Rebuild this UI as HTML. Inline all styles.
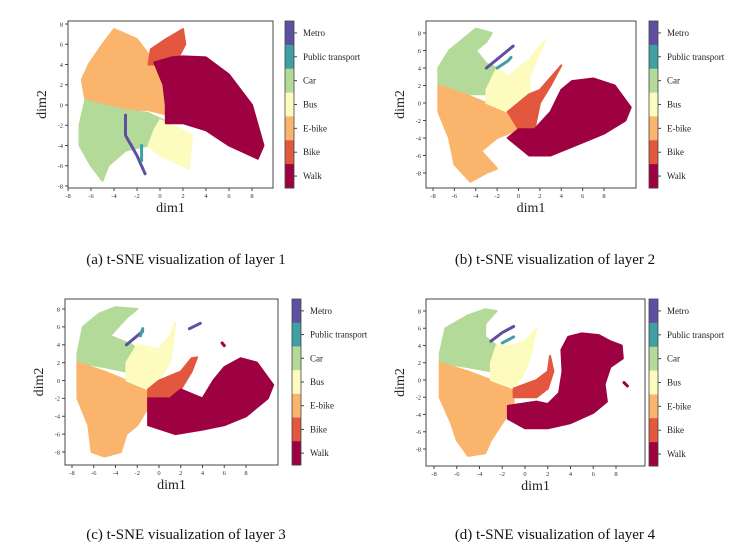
<!DOCTYPE html>
<html><head><meta charset="utf-8">
<style>
html,body{margin:0;padding:0;background:#fff;}
body{width:751px;height:559px;overflow:hidden;position:relative;font-family:"Liberation Serif",serif;}
.cap{position:absolute;font-size:15px;color:#111;white-space:nowrap;transform:translateX(-50%);}
</style></head>
<body>
<svg id="fig" width="751" height="559" style="position:absolute;left:0;top:0"></svg>
<div class="cap" style="left:186px;top:252px">(a) t-SNE visualization of layer 1</div>
<div class="cap" style="left:555px;top:252px">(b) t-SNE visualization of layer 2</div>
<div class="cap" style="left:186px;top:527px">(c) t-SNE visualization of layer 3</div>
<div class="cap" style="left:555px;top:527px">(d) t-SNE visualization of layer 4</div>
<script>
const classes=["Metro","Public transport","Car","Bus","E-bike","Bike","Walk"];
const colors=["#5e4fa2","#3f9fa2","#b3da98","#fdfbbd","#fbb46b","#e2573e","#9e0142"];
const xTicks=[-8,-6,-4,-2,0,2,4,6,8];
const yTicks=[-8,-6,-4,-2,0,2,4,6,8];
// regions per layer: [classIndex, polygon vertices in data coords]
const regionsA=[
 [4,[[-6.2,4],[-5,6],[-4,7.5],[-3,7],[-2,6.5],[-1,5],[0,4.3],[0.8,2],[0.8,-1],[-1,-0.5],[-3,-0.5],[-5,0],[-6.5,0.5],[-6.8,2.5]]],
 [2,[[-6.5,0.5],[-5,0],[-3,-0.5],[-1,-0.8],[0.3,-1.5],[0,-3],[-1,-4],[-3,-4.5],[-4.5,-6],[-5,-7.5],[-6,-6],[-7,-4],[-7,-2]]],
 [3,[[0,-1.5],[2,-2.5],[2.8,-3],[2.5,-6.3],[1,-5.5],[0,-5],[-1,-4],[-0.5,-2.5]]],
 [5,[[-1,4],[-0.8,5.5],[0.5,6.5],[2,7.5],[2.2,6],[1.5,4.5],[0,4]]],
 [6,[[-0.5,4.2],[1,4.7],[2,4.8],[4,4.7],[6,3],[8,0],[9,-4],[8.5,-5.3],[6,-4],[4,-2.5],[2,-1.8],[0.5,-1.8],[0.5,0],[0.3,2]]]
];
const linesA=[[0,[[-3,-1],[-3,-3],[-2.5,-4],[-2,-5],[-1.3,-6.8]]],[1,[[-1.6,-4],[-1.6,-5.5]]]];
const regionsB=[
 [2,[[-7.5,4],[-6.5,6],[-5,7.5],[-4,8.5],[-2.5,8],[-3,7],[-4,6],[-3,4.5],[-2,4],[-1,3],[-3,1],[-5,1],[-7.5,2]]],
 [4,[[-7.5,2],[-5,1],[-3,0],[-1,-1],[0,-3],[-2,-4],[-3.5,-5.5],[-2,-7.5],[-3,-8],[-4.5,-9],[-6,-7],[-6.5,-4],[-7.5,-1]]],
 [3,[[-2,4],[-1,3],[0,4],[1,5],[2.5,7.2],[1,3],[1,1],[-1,-1],[-3,0],[-3,1.5]]],
 [5,[[-1,-1],[1,1],[2,1.5],[4,4.3],[3,2],[2,0],[1.5,-3],[0,-3]]],
 [6,[[0,-3],[1.5,-3],[3,-1],[4,1.5],[5,2.5],[7,2.8],[9,2],[10.5,-0.5],[10,-2],[8,-3.5],[6,-4.5],[3,-6],[1,-6],[-1,-4]]]
];
const linesB=[[0,[[-3,4],[-2,5],[-1,6],[-0.5,6.5]]],[1,[[-2,4],[-1,4.8],[-0.7,5.2]]]];
const regionsC=[
 [2,[[-7.5,3],[-7,6],[-5.5,7.5],[-4,8.2],[-2,8],[-3,7],[-4.5,5],[-2.5,4],[-1.5,3],[-3,1],[-5,1.5],[-7.5,2]]],
 [4,[[-7.5,2],[-5,1],[-3,0],[-1,-1],[-1,-3],[-2,-5],[-3,-6],[-3.5,-8],[-5,-8.5],[-6.2,-8],[-6.5,-5],[-7.5,-2]]],
 [3,[[-2,4],[0,3.5],[1,5],[1.5,6.5],[1.2,3.5],[1,2],[0,0],[-1,-1],[-3,0],[-3,2]]],
 [5,[[-1,-1],[0,0],[2,1],[3,2.5],[3.5,2.6],[3,1],[2,-1],[1,-2],[-1,-2]]],
 [6,[[-1,-2],[1,-2],[2,-1],[4,-2],[5,0],[6,1.5],[7.5,2.5],[9,2],[10.5,-0.5],[10,-2],[8,-4],[6,-5],[4,-5.5],[1.5,-6],[-1,-5]]]
];
const linesC=[[0,[[-3,4],[-2,5],[-1.5,5.5]]],[0,[[2.8,5.8],[3.8,6.4]]],[1,[[-1.7,5],[-1.5,5.8]]],[6,[[5.8,4.2],[6,3.9]]]];
const regionsD=[
 [2,[[-7.5,3],[-7,6],[-5,7.5],[-3.5,8.2],[-2.5,8],[-3.5,6.5],[-3.5,5],[-2.5,4],[-1,3],[-3,1],[-5,1.5],[-7.5,2]]],
 [4,[[-7.5,2],[-5,1],[-3,0],[-1,-1],[-1,-3],[-2,-5],[-3,-7],[-3.5,-8.5],[-5,-8.8],[-6,-7],[-6.5,-5],[-7.5,-2]]],
 [3,[[-2.5,4],[-1,4],[0,4.5],[1,6],[0.5,3],[0,1],[-1,-1],[-3,0],[-3,2]]],
 [5,[[-1,-1],[1,0],[2,1],[2.2,2.8],[2.5,1],[2,-1],[1,-2],[-1,-2]]],
 [6,[[-1.5,-3],[1,-2.5],[2,-2.8],[3,-1.5],[3.3,1],[3.2,3.5],[3.8,5],[5,5.4],[6.5,5.2],[7.5,4.5],[8.5,4],[8.6,2.5],[7.5,1.5],[7,-0.5],[7.2,-2.5],[6,-3.8],[4,-5],[2,-5.6],[0,-5.6],[-1.5,-4.5]]]
];
const linesD=[[0,[[-3,4.5],[-2,5.5],[-1,6.2]]],[1,[[-2,4.3],[-1,5]]],[6,[[8.7,-0.3],[9,-0.7]]]];

const panels=[
 {id:"a",regions:regionsA,lines:linesA,box:[68,21,273,188],x8:[68,252],y8:[24,186],cb:285},
 {id:"b",regions:regionsB,lines:linesB,box:[426,21,636,188],x8:[433,604],y8:[33,173],cb:649},
 {id:"c",regions:regionsC,lines:linesC,box:[65,299,278,465],x8:[72,246],y8:[309,452],cb:292},
 {id:"d",regions:regionsD,lines:linesD,box:[426,299,645,466],x8:[434,616],y8:[311,449],cb:649}
];
const NS="http://www.w3.org/2000/svg";
const svg=document.getElementById("fig");
function mk(tag,attrs,parent){const e=document.createElementNS(NS,tag);for(const k in attrs)e.setAttribute(k,attrs[k]);(parent||svg).appendChild(e);return e;}
panels.forEach(p=>{
 const g=mk("g",{});
 
 
 const sx=v=>p.x8[0]+(v+8)*(p.x8[1]-p.x8[0])/16;
 const sy=v=>p.y8[1]-(v+8)*(p.y8[1]-p.y8[0])/16;
 const [x0,y0,x1,y1]=p.box;
 const clipId="clip"+p.id;
 const cp=mk("clipPath",{id:clipId},g);mk("rect",{x:x0,y:y0,width:x1-x0,height:y1-y0},cp);
 const pg=mk("g",{"clip-path":"url(#"+clipId+")"},g);
 p.regions.forEach(r=>{
  const pts=r[1].map(d=>sx(d[0]).toFixed(1)+","+sy(d[1]).toFixed(1)).join(" ");
  const el=mk("polygon",{points:pts,fill:colors[r[0]],stroke:colors[r[0]],"stroke-width":2,"stroke-linejoin":"round"},pg);
  
  
 });
 p.lines.forEach(l=>{
  const pts=l[1].map(d=>sx(d[0]).toFixed(1)+","+sy(d[1]).toFixed(1)).join(" ");
  const el=mk("polyline",{points:pts,fill:"none",stroke:colors[l[0]],"stroke-width":3,"stroke-linecap":"round","stroke-linejoin":"round"},pg);
  
  
 });
 const fr=mk("rect",{x:x0,y:y0,width:x1-x0,height:y1-y0,fill:"none",stroke:"#444","stroke-width":1},g);
 
 
 xTicks.forEach(t=>{const x=sx(t);mk("line",{x1:x,x2:x,y1:y1,y2:y1+3,stroke:"#444"},g);
  const tx=mk("text",{x:x,y:y1+10,"font-size":6.5,"text-anchor":"middle",fill:"#333","font-family":"Liberation Serif, serif"},g);tx.textContent=t;
  
  });
 yTicks.forEach(t=>{const y=sy(t);mk("line",{x1:x0-3,x2:x0,y1:y,y2:y,stroke:"#444"},g);
  const tx=mk("text",{x:x0-5,y:y+2.3,"font-size":6.5,"text-anchor":"end",fill:"#333","font-family":"Liberation Serif, serif"},g);tx.textContent=t;
  
  });
 const xl=mk("text",{x:(x0+x1)/2,y:y1+24,"font-size":14,"text-anchor":"middle",fill:"#222","font-family":"Liberation Serif, serif"},g);xl.textContent="dim1";
 
 
 const yc=(y0+y1)/2;
 const yl=mk("text",{x:x0-22,y:yc,"font-size":14,"text-anchor":"middle",fill:"#222",transform:"rotate(-90 "+(x0-22)+" "+yc+")","font-family":"Liberation Serif, serif"},g);yl.textContent="dim2";
 
 
 const h=(y1-y0)/7;
 classes.forEach((c,i)=>{
  const r=mk("rect",{x:p.cb,y:y0+i*h,width:9,height:h+0.5,fill:colors[i]},g);
  
  
  mk("line",{x1:p.cb+9,x2:p.cb+12,y1:y0+(i+0.5)*h,y2:y0+(i+0.5)*h,stroke:"#444"},g);
  const t=mk("text",{x:p.cb+18,y:y0+(i+0.5)*h+3,"font-size":9,fill:"#222","font-family":"Liberation Serif, serif"},g);t.textContent=c;
  
  
 });
 mk("rect",{x:p.cb,y:y0,width:9,height:y1-y0,fill:"none",stroke:"#444","stroke-width":0.8},g);
});
</script>
</body></html>
